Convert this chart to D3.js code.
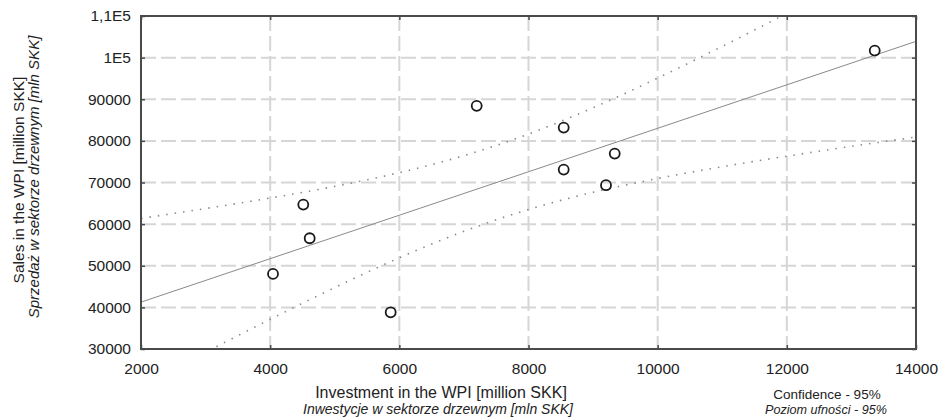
<!DOCTYPE html>
<html>
<head>
  <meta charset="utf-8">
  <title>Investment vs sales in the WPI</title>
  <script src="https://d3js.org/d3.v7.min.js"></script>
  <style>
    body { margin: 0; background: #fff; }
    text { font-family: "Liberation Sans", Arial, sans-serif; fill: #222; }
  </style>
</head>
<body>
  <div id="container"></div>
  <script>
  // data
  var investment = [4044, 4513, 4612, 5866, 7198, 8545, 8545, 9335, 9200, 13361];
  var sales      = [48030, 64690, 56610, 38820, 88410, 83200, 73100, 76950, 69350, 101700];
  var xTicks = [2000, 4000, 6000, 8000, 10000, 12000, 14000];
  var yTicks = [30000, 40000, 50000, 60000, 70000, 80000, 90000, 100000, 110000];
  var yTickLabels = ['30000', '40000', '50000', '60000', '70000', '80000', '90000', '1E5', '1,1E5'];
  var tValue = 2.306; // t(0.975, df = 8)

  const width = 940,
  height = 418,
  margin = { top: 16, right: 24, bottom: 69, left: 141 };

  var svg = d3.select('#container')
    .append('svg')
    .attr('width', width)
    .attr('height', height);

  var x = d3.scaleLinear()
    .domain([2000, 14000])
    .range([margin.left, width - margin.right]);
  var y = d3.scaleLinear()
    .domain([30000, 110000])
    .range([height - margin.bottom, margin.top]);

  svg.append('clipPath').attr('id', 'plotclip')
    .append('rect')
    .attr('x', x(2000)).attr('y', y(110000))
    .attr('width', x(14000) - x(2000))
    .attr('height', y(30000) - y(110000));

  // grid
  var grid = svg.append('g');
  grid.selectAll('.hgrid')
    .data(yTicks.slice(1, -1))
    .enter().append('line')
    .attr('x1', x(2000)).attr('x2', x(14000))
    .attr('y1', function(d){ return y(d) }).attr('y2', function(d){ return y(d) })
    .attr('stroke', '#d6d6d6').attr('stroke-width', 2)
    .style('stroke-dasharray', '15,5');
  grid.selectAll('.vgrid')
    .data(xTicks.slice(1, -1))
    .enter().append('line')
    .attr('y1', y(110000)).attr('y2', y(30000))
    .attr('x1', function(d){ return x(d) }).attr('x2', function(d){ return x(d) })
    .attr('stroke', '#d6d6d6').attr('stroke-width', 2)
    .style('stroke-dasharray', '15,5');

  // regression and 95% confidence band for the mean
  var n = investment.length;
  var mx = d3.mean(investment), my = d3.mean(sales);
  var sxx = d3.sum(investment, function(v){ return (v - mx) * (v - mx) });
  var sxy = d3.sum(investment, function(v, i){ return (v - mx) * (sales[i] - my) });
  var slope = sxy / sxx, icpt = my - slope * mx;
  var sse = d3.sum(investment, function(v, i){ var r = sales[i] - (icpt + slope * v); return r * r });
  var s = Math.sqrt(sse / (n - 2));

  var xs = d3.range(2000, 14001, 100);
  function band(sign) {
    return xs.map(function(v){
      var fit = icpt + slope * v;
      var se = s * Math.sqrt(1 / n + (v - mx) * (v - mx) / sxx);
      return [v, fit + sign * tValue * se];
    });
  }
  var line = d3.line()
    .x(function(d){ return x(d[0]) })
    .y(function(d){ return y(d[1]) });

  var fits = svg.append('g').attr('clip-path', 'url(#plotclip)');
  fits.append('path')
    .datum([[2000, icpt + slope * 2000], [14000, icpt + slope * 14000]])
    .attr('d', line)
    .attr('fill', 'none').attr('stroke', '#8a8a8a').attr('stroke-width', 1);
  [1, -1].forEach(function(sg){
    fits.append('path')
      .datum(band(sg))
      .attr('d', line)
      .attr('fill', 'none').attr('stroke', '#8a8a8a').attr('stroke-width', 1.6)
      .style('stroke-dasharray', '1.5,7');
  });

  // frame
  svg.append('rect')
    .attr('x', x(2000)).attr('y', y(110000))
    .attr('width', x(14000) - x(2000))
    .attr('height', y(30000) - y(110000))
    .attr('fill', 'none').attr('stroke', '#4a4a4a').attr('stroke-width', 2);

  // axes
  function tickStyle(g) {
    g.select('.domain').remove();
    g.selectAll('line').attr('stroke', '#4a4a4a').attr('stroke-width', 1.5);
    g.selectAll('text').attr('font-size', '15.5px').attr('fill', '#222')
      .style('font-family', '"Liberation Sans", Arial, sans-serif');
  }

  svg.append('g')
    .attr('transform', 'translate(0,' + y(30000) + ')')
    .call(d3.axisBottom(x).tickValues(xTicks).tickSize(-4).tickPadding(14).tickFormat(d3.format('d')))
    .call(tickStyle);

  svg.append('g')
    .attr('transform', 'translate(' + x(2000) + ',0)')
    .call(d3.axisLeft(y).tickValues(yTicks).tickSize(-4).tickPadding(10)
      .tickFormat(function(d, i){ return yTickLabels[i] }))
    .call(tickStyle);

  svg.append('g')
    .attr('transform', 'translate(' + x(14000) + ',0)')
    .call(d3.axisRight(y).tickValues(yTicks).tickSize(-4).tickFormat(''))
    .call(tickStyle);
  svg.append('g')
    .attr('transform', 'translate(0,' + y(110000) + ')')
    .call(d3.axisTop(x).tickValues(xTicks).tickSize(-4).tickFormat(''))
    .call(tickStyle);

  // points
  svg.append('g').selectAll('circle')
    .data(investment)
    .enter().append('circle')
    .attr('cx', function(d){ return x(d) })
    .attr('cy', function(d, i){ return y(sales[i]) })
    .attr('r', 5)
    .attr('fill', 'none')
    .attr('stroke', '#1a1a1a').attr('stroke-width', 1.8);

  // titles
  svg.append('text')
    .text('Investment in the WPI [million SKK]')
    .attr('x', 441).attr('y', 398)
    .attr('font-size', '16px')
    .style('text-anchor', 'middle');
  svg.append('text')
    .text('Inwestycje w sektorze drzewnym [mln SKK]')
    .attr('x', 438).attr('y', 414)
    .attr('font-size', '14px').style('font-style', 'italic')
    .style('text-anchor', 'middle');

  svg.append('text')
    .text('Sales in the WPI [million SKK]')
    .attr('transform', 'translate(24,180) rotate(-90)')
    .attr('font-size', '15.5px')
    .style('text-anchor', 'middle');
  svg.append('text')
    .text('Sprzedaż w sektorze drzewnym [mln SKK]')
    .attr('transform', 'translate(39,177) rotate(-90)')
    .attr('font-size', '15px').style('font-style', 'italic')
    .style('text-anchor', 'middle');

  svg.append('text')
    .text('Confidence - 95%')
    .attr('x', 827).attr('y', 399)
    .attr('font-size', '13.5px')
    .style('text-anchor', 'middle');
  svg.append('text')
    .text('Poziom ufności - 95%')
    .attr('x', 826).attr('y', 414)
    .attr('font-size', '12.6px').style('font-style', 'italic')
    .style('text-anchor', 'middle');
  </script>
</body>
</html>
